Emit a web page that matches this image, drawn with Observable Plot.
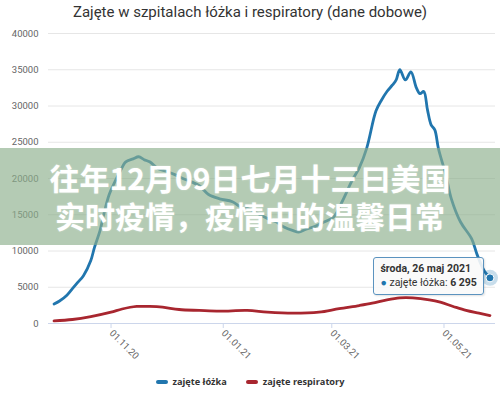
<!DOCTYPE html>
<html><head><meta charset="utf-8">
<script src="https://cdn.jsdelivr.net/npm/d3@7"></script>
<script src="https://cdn.jsdelivr.net/npm/@observablehq/plot@0.6"></script>
<style>
body{margin:0;background:#fff;}
#wrap{position:relative;width:500px;height:395px;overflow:hidden;font-family:Roboto,"Open Sans",sans-serif;background:#fff;}
#title{position:absolute;top:0;left:0;width:500px;text-align:center;font-size:15px;color:#333;line-height:24px;}
#chart{position:absolute;top:24px;left:0;}
#legend{position:absolute;top:375px;left:0;width:500px;display:flex;justify-content:center;gap:19px;font-size:9.2px;font-weight:bold;color:#333;font-family:"Open Sans",Roboto,sans-serif;line-height:14px;}
#legend span.sw{display:inline-block;width:12px;height:4px;border-radius:2px;vertical-align:middle;margin-right:5px;margin-top:-2px;}
#tip{position:absolute;background:rgba(250,250,250,0.9);border:1px solid #5b93bf;border-radius:3px;font-size:10.5px;color:#333;padding:4px 6px;line-height:14px;white-space:nowrap;box-shadow:1px 1px 2px rgba(0,0,0,0.12);}
#banner{position:absolute;left:0;top:148px;width:500px;height:97px;background:rgba(140,175,140,0.65);color:#fff;font-family:"Noto Sans CJK SC",sans-serif;font-weight:bold;font-size:30px;line-height:38px;text-align:center;box-sizing:border-box;padding-top:10px;text-shadow:0 0 2px rgba(255,255,255,0.4);}
</style></head>
<body>
<div id="wrap">
<div id="title"></div>
<div id="chart"></div>
<div id="legend"></div>
<div id="tip"></div>
<div id="banner"></div>
</div>
<script>
const titleText = "Zajęte w szpitalach łóżka i respiratory (dane dobowe)";
const seriesNames = ["zajęte łóżka", "zajęte respiratory"];
const seriesColors = ["#2176ae", "#a8262f"];
const bannerLines = ["往年12月09日七月十三曰美国", "实时疫情，疫情中的温馨日常"];
const tipDate = "środa, 26 maj 2021";
const tipValueLabel = "6 295";

const bedDates = ["2020-10-01","2020-10-04","2020-10-08","2020-10-11","2020-10-14","2020-10-17","2020-10-21","2020-10-23","2020-10-26","2020-10-28","2020-10-31","2020-11-03","2020-11-06","2020-11-09","2020-11-13","2020-11-16","2020-11-19","2020-11-22","2020-11-27","2020-12-01","2020-12-06","2020-12-10","2020-12-15","2020-12-19","2020-12-24","2020-12-30","2021-01-06","2021-01-11","2021-01-15","2021-01-21","2021-01-25","2021-01-30","2021-02-03","2021-02-08","2021-02-11","2021-02-15","2021-02-20","2021-02-24","2021-03-02","2021-03-07","2021-03-12","2021-03-16","2021-03-20","2021-03-25","2021-03-28","2021-03-31","2021-04-03","2021-04-05","2021-04-07","2021-04-10","2021-04-13","2021-04-16","2021-04-18","2021-04-20","2021-04-22","2021-04-24","2021-04-26","2021-04-28","2021-05-02","2021-05-05","2021-05-10","2021-05-16","2021-05-19","2021-05-23","2021-05-26"];
const bedValues = [2700,3100,3900,4800,5700,6600,8700,10500,12800,15000,17800,19500,21000,22300,22700,23000,22600,22300,21300,21000,20500,20000,19500,19000,17800,17200,16800,16000,15800,15000,14500,14000,13300,12800,12600,13000,13400,13900,14700,17000,19700,21500,24200,29300,30800,32000,32900,33600,35000,33600,34700,32500,31700,32000,29500,27400,26700,24100,20500,17200,14000,11700,9500,7200,6295];

const ventDates = ["2020-10-01","2020-10-11","2020-10-21","2020-11-01","2020-11-07","2020-11-15","2020-11-22","2020-11-29","2020-12-08","2020-12-19","2020-12-30","2021-01-14","2021-01-25","2021-02-08","2021-02-22","2021-03-05","2021-03-16","2021-03-23","2021-03-31","2021-04-07","2021-04-14","2021-04-23","2021-04-29","2021-05-06","2021-05-13","2021-05-20","2021-05-26"];
const ventValues = [350,550,950,1560,2000,2350,2350,2250,1930,1800,1700,1800,1560,1420,1560,2050,2480,2800,3270,3540,3540,3270,2940,2350,1800,1420,1100];

const yTicks = [0,5000,10000,15000,20000,25000,30000,35000,40000];
const xTickDates = ["2020-11-01","2021-01-01","2021-03-01","2021-05-01"];
const xTickLabels = ["01.11.20","01.01.21","01.03.21","01.05.21"];
const xDomain = ["2020-09-28","2021-05-29"];

const parse = d3.utcParse("%Y-%m-%d");
const beds = bedDates.map((d,i)=>({date:parse(d), value:bedValues[i]}));
const vents = ventDates.map((d,i)=>({date:parse(d), value:ventValues[i]}));
const tickDates = xTickDates.map(parse);
const labelOf = new Map(tickDates.map((d,i)=>[+d, xTickLabels[i]]));
const last = beds[beds.length-1];

const plot = Plot.plot({
  width: 500, height: 345,
  marginLeft: 48, marginRight: 5, marginTop: 9, marginBottom: 46,
  style: {fontFamily: "Roboto, sans-serif", background: "transparent"},
  x: {type: "utc", domain: xDomain.map(parse)},
  y: {domain: [0, 40000]},
  marks: [
    Plot.gridY(yTicks.slice(1), {stroke: "#e6e6e6", strokeOpacity: 1}),
    Plot.axisY(yTicks, {tickSize: 0, tickPadding: 10, fontSize: 9.5, fill: "#666", tickFormat: d => String(d), label: null}),
    Plot.ruleY([0], {stroke: "#ccd6eb"}),
    Plot.axisX(tickDates, {tickSize: 5, stroke: "#ccd6eb", tickRotate: 45, textAnchor: "start", tickPadding: 3, fontSize: 9.5, fill: "#666", tickFormat: d => labelOf.get(+d), label: null}),
    Plot.line(vents, {x: "date", y: "value", stroke: seriesColors[1], strokeWidth: 2.8, curve: "catmull-rom"}),
    Plot.line(beds, {x: "date", y: "value", stroke: seriesColors[0], strokeWidth: 2.8, curve: "catmull-rom"}),
    Plot.dot([last], {x: "date", y: "value", r: 8, fill: seriesColors[0], fillOpacity: 0.25}),
    Plot.dot([last], {x: "date", y: "value", r: 4, fill: seriesColors[0], stroke: "#fff", strokeWidth: 1})
  ]
});
document.getElementById("chart").appendChild(plot);

document.getElementById("title").textContent = titleText;

const legend = document.getElementById("legend");
seriesNames.forEach((n,i)=>{
  const it = document.createElement("div");
  const sw = document.createElement("span"); sw.className="sw"; sw.style.background = seriesColors[i];
  it.appendChild(sw); it.appendChild(document.createTextNode(n));
  legend.appendChild(it);
});

const px = plot.scale("x").apply(last.date);
const py = plot.scale("y").apply(last.value) + 24;
const tip = document.getElementById("tip");
tip.innerHTML = `<b>${tipDate}</b><br><span style="color:${seriesColors[0]}">●</span> ${seriesNames[0]}: <b>${tipValueLabel}</b>`;
tip.style.left = (px - 116) + "px";
tip.style.top = (py - 20) + "px";

const banner = document.getElementById("banner");
banner.innerHTML = bannerLines.join("<br>");
</script>
</body></html>
